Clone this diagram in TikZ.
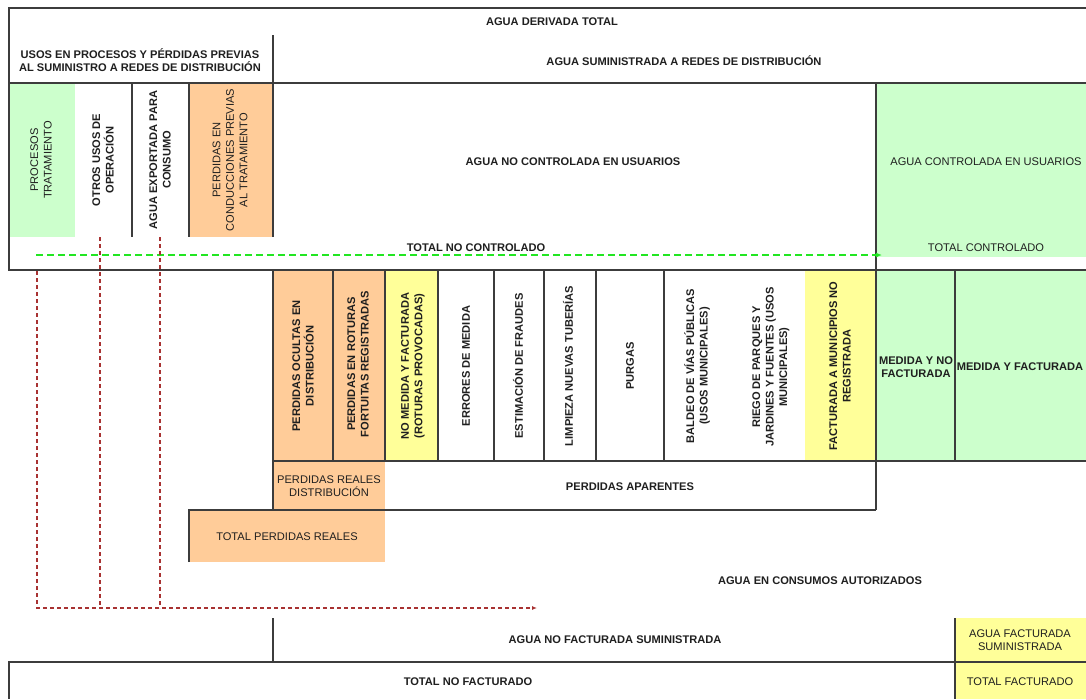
\documentclass[tikz,border=0pt]{standalone}
\usepackage{fontspec}
\setmainfont{Liberation Sans}
\usetikzlibrary{arrows.meta}
\definecolor{lgreen}{HTML}{CCFFCC}
\definecolor{lorange}{HTML}{FFCC99}
\definecolor{lyellow}{HTML}{FFFF99}
\definecolor{gline}{HTML}{3C3C3C}
\definecolor{dred}{HTML}{A83232}
\definecolor{bgreen}{HTML}{22E622}
\begin{document}
\begin{tikzpicture}[x=1pt,y=-1pt,
  txt/.style={font=\fontsize{11.1}{13.5}\selectfont, inner sep=0pt, align=center, text=black!88},
  txtb/.style={txt, font=\fontsize{11.1}{13.5}\selectfont\bfseries},
  vtxt/.style={txt, rotate=90},
  vtxtb/.style={txtb, rotate=90},
  grid/.style={draw=gline, line width=1.3pt},
  reddash/.style={draw=dred, line width=1.5pt, dash pattern=on 4pt off 3pt},
  greendash/.style={draw=bgreen, line width=1.8pt, dash pattern=on 7pt off 4pt}]
\useasboundingbox (0,0) rectangle (1086,699);
\clip (0,0) rectangle (1086,699);
% fills
\fill[lgreen] (9,83) rectangle (75,237);
\fill[lorange] (189,83) rectangle (273,237);
\fill[lgreen] (876,83) rectangle (1090,257);
\fill[lorange] (273,270) rectangle (385,510);
\fill[lorange] (189,510) rectangle (385,562);
\fill[lyellow] (385,270) rectangle (438,461);
\fill[lyellow] (805,270) rectangle (876,461);
\fill[lgreen] (876,270) rectangle (1090,461);
\fill[lyellow] (955,618) rectangle (1090,699);
% grid lines
\draw[grid] (1090,8) -- (9,8) -- (9,270) -- (1090,270);
\draw[grid] (9,83) -- (1090,83);
\draw[grid] (273,35) -- (273,237);
\draw[grid] (132,83) -- (132,237);
\draw[grid] (189,83) -- (189,237);
\draw[grid] (876,83) -- (876,510);
\draw[grid] (273,270) -- (273,510);
\foreach \x in {333,385,438,494,544,596,664,955} \draw[grid] (\x,270) -- (\x,461);
\draw[grid] (273,461) -- (1090,461);
\draw[grid] (189,562) -- (189,510) -- (876,510);
\draw[grid] (273,618) -- (273,662);
\draw[grid] (955,618) -- (955,699);
\draw[grid] (1090,662) -- (9,662) -- (9,699);
% texts top
\node[txtb] (derivada) at (552,22) {AGUA DERIVADA TOTAL};
\node[txtb] (usos) at (140,60) {USOS EN PROCESOS Y PÉRDIDAS PREVIAS\\AL SUMINISTRO A REDES DE DISTRIBUCIÓN};
\node[txtb] (suministrada) at (684,61) {AGUA SUMINISTRADA A REDES DE DISTRIBUCIÓN};
\node[vtxt] (procesos) at (41,160) {PROCESOS\\TRATAMIENTO};
\node[vtxtb] (otros) at (103,160) {OTROS USOS DE\\OPERACIÓN};
\node[vtxtb] (exportada) at (160,160) {AGUA EXPORTADA PARA\\CONSUMO};
\node[vtxt] (conducciones) at (230,160) {PERDIDAS EN\\CONDUCCIONES PREVIAS\\AL TRATAMIENTO};
\node[txtb] (nocontrolada) at (573,162) {AGUA NO CONTROLADA EN USUARIOS};
\node[txt] (controlada) at (986,162) {AGUA CONTROLADA EN USUARIOS};
\node[txtb] (totalnocont) at (476,248) {TOTAL NO CONTROLADO};
\node[txt] (totalcont) at (986,248) {TOTAL CONTROLADO};
% middle row
\node[vtxtb] (ocultas) at (303,366) {PERDIDAS OCULTAS EN\\DISTRIBUCIÓN};
\node[vtxtb] (roturas) at (358,364) {PERDIDAS EN ROTURAS\\FORTUITAS REGISTRADAS};
\node[vtxtb] (nomedida) at (413,366) {NO MEDIDA Y FACTURADA\\(ROTURAS PROVOCADAS)};
\node[vtxtb] (errores) at (466,366) {ERRORES DE MEDIDA};
\node[vtxtb] (fraudes) at (518,366) {ESTIMACIÓN DE FRAUDES};
\node[vtxtb] (limpieza) at (568,366) {LIMPIEZA NUEVAS TUBERÍAS};
\node[vtxtb] (purgas) at (630,366) {PURGAS};
\node[vtxtb] (baldeo) at (697,366) {BALDEO DE VÍAS PÚBLICAS\\(USOS MUNICIPALES)};
\node[vtxtb] (riego) at (771,367) {RIEGO DE PARQUES Y\\JARDINES Y FUENTES (USOS\\MUNICIPALES)};
\node[vtxtb] (munic) at (840,366) {FACTURADA A MUNICIPIOS NO\\REGISTRADA};
\node[txtb] (mnf) at (916,367) {MEDIDA Y NO\\FACTURADA};
\node[txtb] (mf) at (1020,367) {MEDIDA Y FACTURADA};
% lower rows
\node[txt] (realesdist) at (329,486) {PERDIDAS REALES\\DISTRIBUCIÓN};
\node[txtb] (aparentes) at (630,487) {PERDIDAS APARENTES};
\node[txt] (totalreales) at (287,537) {TOTAL PERDIDAS REALES};
\node[txtb] (autorizados) at (820,581) {AGUA EN CONSUMOS AUTORIZADOS};
\node[txtb] (nofactsum) at (615,640) {AGUA NO FACTURADA SUMINISTRADA};
\node[txt] (factsum) at (1020,640) {AGUA FACTURADA\\SUMINISTRADA};
\node[txtb] (totalnofact) at (468,682) {TOTAL NO FACTURADO};
\node[txt] (totalfact) at (1020,682) {TOTAL FACTURADO};
% dashed connectors
\coordinate (g1) at (36,255);
\coordinate (g2) at (882,255);
\draw[greendash, -{Latex[length=6pt,width=5pt]}] (g1) -- (g2);
\coordinate (r1a) at (37,271);
\coordinate (r1b) at (37,608);
\coordinate (r2a) at (100,237);
\coordinate (r2b) at (100,608);
\coordinate (r3a) at (160,237);
\coordinate (r3b) at (160,608);
\coordinate (rend) at (537,608);
\draw[reddash] (r2a) -- (r2b);
\draw[reddash] (r3a) -- (r3b);
\draw[reddash, -{Latex[length=5pt,width=4pt]}] (r1a) -- (r1b) -- (rend);
\end{tikzpicture}
\end{document}
